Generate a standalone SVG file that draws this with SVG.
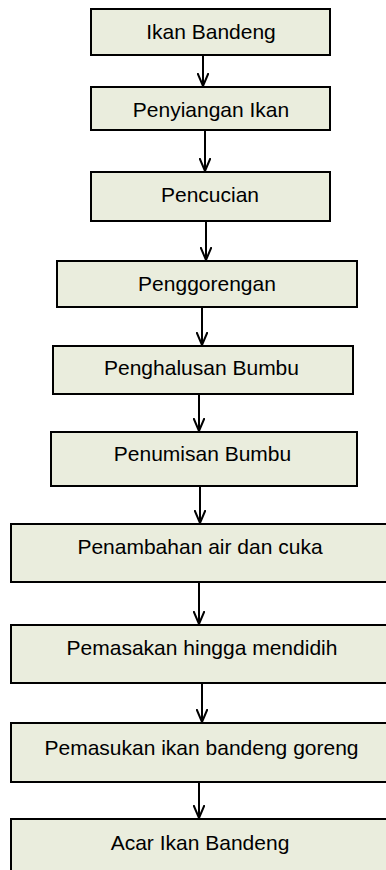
<svg xmlns="http://www.w3.org/2000/svg" width="386" height="870" viewBox="0 0 386 870">
<style>
.box{fill:#EAEDDD;stroke:#000;stroke-width:2}
.lbl{font-family:"Liberation Sans",Arial,sans-serif;font-size:21px;fill:#000;text-anchor:middle}
.con{stroke:#000;stroke-width:2;fill:none}
</style>
<defs>
<marker id="arr" viewBox="0 0 14 12" refX="13" refY="6" markerWidth="14" markerHeight="12" markerUnits="userSpaceOnUse" orient="auto">
<path d="M0,0.5 L13,6 L0,11.5" fill="none" stroke="#000" stroke-width="2"/>
</marker>
</defs>
<rect width="386" height="870" fill="#fff"/>
<g id="connectors">
<line class="con" x1="203" y1="55" x2="203" y2="86" marker-end="url(#arr)"/>
<line class="con" x1="205" y1="130" x2="205" y2="171" marker-end="url(#arr)"/>
<line class="con" x1="206" y1="221" x2="206" y2="260" marker-end="url(#arr)"/>
<line class="con" x1="202" y1="307" x2="202" y2="345" marker-end="url(#arr)"/>
<line class="con" x1="199" y1="394" x2="199" y2="431" marker-end="url(#arr)"/>
<line class="con" x1="200" y1="486" x2="200" y2="523" marker-end="url(#arr)"/>
<line class="con" x1="199" y1="582" x2="199" y2="624" marker-end="url(#arr)"/>
<line class="con" x1="202" y1="683" x2="202" y2="722" marker-end="url(#arr)"/>
<line class="con" x1="199" y1="782" x2="199" y2="818" marker-end="url(#arr)"/>
</g>
<g id="n1"><rect class="box" x="91" y="9" width="239" height="46"/><text class="lbl" x="211" y="39">Ikan Bandeng</text></g>
<g id="n2"><rect class="box" x="91" y="87" width="239" height="43"/><text class="lbl" x="211" y="117">Penyiangan Ikan</text></g>
<g id="n3"><rect class="box" x="91" y="172" width="239" height="49"/><text class="lbl" x="210" y="202">Pencucian</text></g>
<g id="n4"><rect class="box" x="57" y="261" width="300" height="46"/><text class="lbl" x="207" y="291">Penggorengan</text></g>
<g id="n5"><rect class="box" x="53" y="346" width="300" height="48"/><text class="lbl" x="201.5" y="375">Penghalusan Bumbu</text></g>
<g id="n6"><rect class="box" x="51" y="432" width="306" height="54"/><text class="lbl" x="202.5" y="461">Penumisan Bumbu</text></g>
<g id="n7"><rect class="box" x="11" y="524" width="379" height="58"/><text class="lbl" x="200" y="554">Penambahan air dan cuka</text></g>
<g id="n8"><rect class="box" x="11" y="625" width="379" height="58"/><text class="lbl" x="202" y="655">Pemasakan hingga mendidih</text></g>
<g id="n9"><rect class="box" x="11" y="723" width="379" height="59"/><text class="lbl" x="201.5" y="755">Pemasukan ikan bandeng goreng</text></g>
<g id="n10"><rect class="box" x="11" y="819" width="379" height="61"/><text class="lbl" x="200" y="850">Acar Ikan Bandeng</text></g>
</svg>
